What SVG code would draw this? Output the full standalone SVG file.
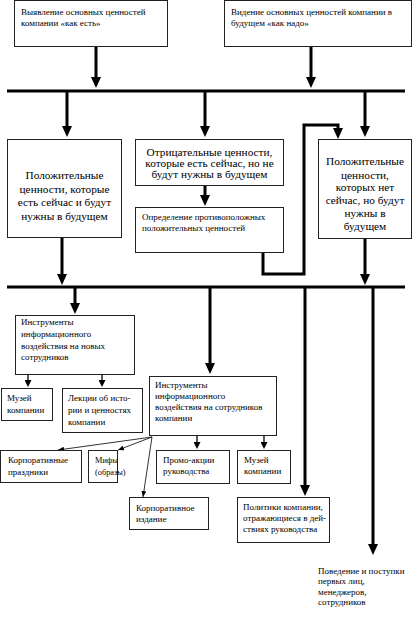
<svg xmlns="http://www.w3.org/2000/svg" width="420" height="620" viewBox="0 0 420 620">
<defs>
<style>
.box{fill:#fff;stroke:#222;stroke-width:1}
.s{font-family:"Liberation Serif","DejaVu Serif",serif;font-size:9px;fill:#000}
.b{font-family:"Liberation Serif","DejaVu Serif",serif;font-size:11.3px;fill:#000;text-anchor:middle}
.thick{stroke:#000;stroke-width:3;fill:none}
.med{stroke:#000;stroke-width:1.3;fill:none}
.thin{stroke:#000;stroke-width:0.8;fill:none}
</style>
<marker id="ah" markerUnits="userSpaceOnUse" viewBox="0 0 11 10" markerWidth="11" markerHeight="10" refX="1" refY="5" orient="auto"><path d="M0,0 L11,5 L0,10 z" fill="#000"/></marker>
<marker id="am" markerUnits="userSpaceOnUse" viewBox="0 0 7 7" markerWidth="7" markerHeight="7" refX="1" refY="3.5" orient="auto"><path d="M0,0 L7,3.5 L0,7 z" fill="#000"/></marker>
<marker id="at" markerUnits="userSpaceOnUse" viewBox="0 0 6 5" markerWidth="6" markerHeight="5" refX="6" refY="2.5" orient="auto"><path d="M0,0 L6,2.5 L0,5 z" fill="#000"/></marker>
</defs>
<rect width="420" height="620" fill="#fff"/>

<g id="connectors">
<line class="thick" x1="7" y1="91" x2="405" y2="91"/>
<line class="thick" x1="7" y1="287" x2="405" y2="287"/>
<line class="thick" x1="96" y1="47" x2="96" y2="78" marker-end="url(#ah)"/>
<line class="thick" x1="311" y1="47" x2="311" y2="78" marker-end="url(#ah)"/>
<line class="thick" x1="67" y1="91" x2="67" y2="127" marker-end="url(#ah)"/>
<line class="thick" x1="205" y1="91" x2="205" y2="127" marker-end="url(#ah)"/>
<line class="thick" x1="365" y1="91" x2="365" y2="127" marker-end="url(#ah)"/>
<line class="thick" x1="205" y1="186" x2="205" y2="196" marker-end="url(#ah)"/>
<line class="thick" x1="62" y1="238" x2="62" y2="275" marker-end="url(#ah)"/>
<line class="thick" x1="365" y1="239" x2="365" y2="275" marker-end="url(#ah)"/>
<path class="thick" d="M263,253 V274 H304 V125 H338 V129" marker-end="url(#ah)"/>
<line class="thick" x1="75" y1="287" x2="75" y2="304" marker-end="url(#ah)"/>
<line class="thick" x1="210" y1="287" x2="210" y2="364" marker-end="url(#ah)"/>
<line class="thick" x1="305" y1="287" x2="305" y2="486" marker-end="url(#ah)"/>
<line class="thick" x1="373" y1="287" x2="373" y2="545" marker-end="url(#ah)"/>
<line class="med" x1="28" y1="375" x2="28" y2="381" marker-end="url(#am)"/>
<line class="med" x1="102" y1="375" x2="102" y2="381" marker-end="url(#am)"/>
<line class="med" x1="197" y1="436" x2="197" y2="443" marker-end="url(#am)"/>
<line class="med" x1="264" y1="436" x2="264" y2="443" marker-end="url(#am)"/>
<line class="thin" x1="152" y1="437" x2="58" y2="450" marker-end="url(#at)"/>
<line class="thin" x1="152" y1="437" x2="118" y2="450" marker-end="url(#at)"/>
<line class="thin" x1="152" y1="437" x2="143" y2="497" marker-end="url(#at)"/>
</g>

<g id="n1"><rect class="box" x="14.5" y="0.5" width="153" height="46"/>
<text class="s" x="21" y="15">Выявление основных ценностей</text>
<text class="s" x="21" y="26">компании «как есть»</text></g>

<g id="n2"><rect class="box" x="224.5" y="0.5" width="187" height="46"/>
<text class="s" x="231" y="15">Видение основных ценностей компании в</text>
<text class="s" x="231" y="26">будущем «как надо»</text></g>

<g id="n3"><rect class="box" x="7.5" y="139.5" width="114" height="98"/>
<text class="b" x="64.5" y="179">Положительные</text>
<text class="b" x="64.5" y="193">ценности, которые</text>
<text class="b" x="64.5" y="206">есть сейчас и будут</text>
<text class="b" x="64.5" y="220">нужны в будущем</text></g>

<g id="n4"><rect class="box" x="135.5" y="139.5" width="148" height="46"/>
<text class="b" x="209.5" y="156">Отрицательные ценности,</text>
<text class="b" x="209.5" y="167">которые есть сейчас, но не</text>
<text class="b" x="209.5" y="178">будут нужны в будущем</text></g>

<g id="n5"><rect class="box" x="135.5" y="207.5" width="148" height="45"/>
<text class="s" x="142" y="220">Определение противоположных</text>
<text class="s" x="142" y="231">положительных ценностей</text></g>

<g id="n6"><rect class="box" x="318.5" y="139.5" width="93" height="99"/>
<text class="b" x="365" y="165">Положительные</text>
<text class="b" x="365" y="179">ценности,</text>
<text class="b" x="365" y="191">которых нет</text>
<text class="b" x="365" y="204">сейчас, но будут</text>
<text class="b" x="365" y="217">нужны в</text>
<text class="b" x="365" y="230">будущем</text></g>

<g id="n7"><rect class="box" x="15.5" y="315.5" width="119" height="59"/>
<text class="s" x="21" y="325">Инструменты</text>
<text class="s" x="21" y="337">информационного</text>
<text class="s" x="21" y="349">воздействия на новых</text>
<text class="s" x="21" y="360">сотрудников</text></g>

<g id="n8"><rect class="box" x="1.5" y="388.5" width="51" height="32"/>
<text class="s" x="7" y="401">Музей</text>
<text class="s" x="7" y="413">компании</text></g>

<g id="n9"><rect class="box" x="62.5" y="388.5" width="80" height="44"/>
<text class="s" x="68" y="401">Лекции об исто-</text>
<text class="s" x="68" y="413">рии и ценностях</text>
<text class="s" x="68" y="425">компании</text></g>

<g id="n10"><rect class="box" x="149.5" y="376.5" width="127" height="59"/>
<text class="s" x="155" y="388">Инструменты</text>
<text class="s" x="155" y="399">информационного</text>
<text class="s" x="155" y="410">воздействия на сотрудников</text>
<text class="s" x="155" y="421">компании</text></g>

<g id="n11"><rect class="box" x="0.5" y="450.5" width="81" height="32"/>
<text class="s" x="8" y="463">Корпоративные</text>
<text class="s" x="8" y="475">праздники</text></g>

<g id="n12"><rect class="box" x="88.5" y="450.5" width="29" height="32"/>
<text class="s" x="95" y="463" style="font-size:8.3px">Мифы</text>
<text class="s" x="95" y="475" style="font-size:8.3px">(образы)</text></g>

<g id="n13"><rect class="box" x="156.5" y="450.5" width="73" height="33"/>
<text class="s" x="163" y="463">Промо-акции</text>
<text class="s" x="163" y="474">руководства</text></g>

<g id="n14"><rect class="box" x="237.5" y="450.5" width="53" height="33"/>
<text class="s" x="244" y="463">Музей</text>
<text class="s" x="244" y="474">компании</text></g>

<g id="n15"><rect class="box" x="129.5" y="497.5" width="79" height="32"/>
<text class="s" x="136" y="511">Корпоративное</text>
<text class="s" x="136" y="522">издание</text></g>

<g id="n16"><rect class="box" x="237.5" y="497.5" width="92" height="45"/>
<text class="s" x="243" y="510">Политики компании,</text>
<text class="s" x="243" y="521">отражающиеся в дей-</text>
<text class="s" x="243" y="532">ствиях руководства</text></g>

<g id="n17">
<text class="s" x="318" y="574">Поведение и поступки</text>
<text class="s" x="318" y="584">первых лиц,</text>
<text class="s" x="318" y="595">менеджеров,</text>
<text class="s" x="318" y="605">сотрудников</text></g>
</svg>
